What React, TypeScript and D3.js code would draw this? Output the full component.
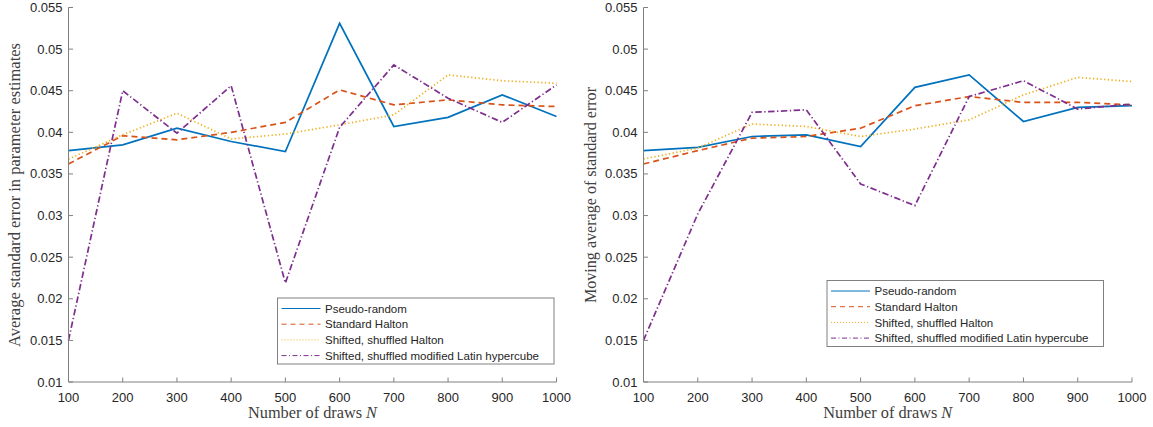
import React from "react";
import * as d3 from "d3";

const draws = [100, 200, 300, 400, 500, 600, 700, 800, 900, 1000];
const yTicks = [0.01, 0.015, 0.02, 0.025, 0.03, 0.035, 0.04, 0.045, 0.05, 0.055];
const seriesNames = [
  "Pseudo-random",
  "Standard Halton",
  "Shifted, shuffled Halton",
  "Shifted, shuffled modified Latin hypercube",
];

// Left panel: average standard error in parameter estimates
const leftPseudo = [0.0378, 0.0385, 0.0405, 0.0389, 0.0377, 0.0531, 0.0407, 0.0418, 0.0445, 0.0419];
const leftHalton = [0.0362, 0.0396, 0.0391, 0.04, 0.0412, 0.0451, 0.0433, 0.0439, 0.0433, 0.0431];
const leftShHalton = [0.0368, 0.0397, 0.0423, 0.0392, 0.0398, 0.0409, 0.0421, 0.0469, 0.0462, 0.0459];
const leftLatin = [0.015, 0.045, 0.0399, 0.0456, 0.0219, 0.0406, 0.0481, 0.0441, 0.0412, 0.0457];

// Right panel: moving average of standard error
const rightPseudo = [0.0378, 0.0382, 0.0395, 0.0397, 0.0383, 0.0454, 0.0469, 0.0413, 0.043, 0.0432];
const rightHalton = [0.0362, 0.0378, 0.0393, 0.0395, 0.0405, 0.0432, 0.0443, 0.0436, 0.0436, 0.0433];
const rightShHalton = [0.0368, 0.0381, 0.041, 0.0407, 0.0395, 0.0404, 0.0415, 0.0445, 0.0466, 0.0461];
const rightLatin = [0.015, 0.0302, 0.0424, 0.0427, 0.0338, 0.0312, 0.0443, 0.0462, 0.0428, 0.0434];

const colors = ["#0072BD", "#D95319", "#EDB120", "#7E2F8E"];
const dashes = ["none", "6,4", "1.3,2.4", "6.5,2.5,1.3,2.5"];
const legendDashes = ["none", "5,4", "1,2", "5,2.5,1,2.5"];

const AXIS = "#808080";
const TXT = "#262626";
const SANS = "'Liberation Sans', Arial, Helvetica, sans-serif";
const SERIF = "'Liberation Serif', 'Times New Roman', serif";

type PanelProps = {
  x0: number;
  x1: number;
  series: number[][];
  ylabel: string;
  ylabelX: number;
  ylabelLen: number;
  legendX: number;
  legendY: number;
  legendW: number;
};

function Panel(p: PanelProps) {
  const y0 = 382;
  const y1 = 7.5;
  const x = d3.scaleLinear().domain([100, 1000]).range([p.x0, p.x1]);
  const y = d3.scaleLinear().domain([0.01, 0.055]).range([y0, y1]);
  const line = d3
    .line<number>()
    .x((_, i) => x(draws[i]))
    .y((d) => y(d));
  const cx = (p.x0 + p.x1) / 2;
  const legendH = 66;
  const rowH = 15.7;
  return (
    <g>
      {p.series.map((s, i) => (
        <path
          key={i}
          d={line(s) || ""}
          fill="none"
          stroke={colors[i]}
          strokeWidth={1.7}
          strokeDasharray={dashes[i]}
          strokeLinejoin="miter"
        />
      ))}
      {/* axes */}
      <line x1={p.x0} x2={p.x0} y1={y1} y2={y0} stroke={AXIS} strokeWidth={1} />
      <line x1={p.x0} x2={p.x1} y1={y0} y2={y0} stroke={AXIS} strokeWidth={1} />
      {yTicks.map((t) => (
        <g key={t}>
          <line x1={p.x0} x2={p.x0 + 4.5} y1={y(t)} y2={y(t)} stroke={AXIS} strokeWidth={1} />
          <text
            x={p.x0 - 6}
            y={y(t)}
            dy="0.35em"
            textAnchor="end"
            fontFamily={SANS}
            fontSize={13}
            fill={TXT}
          >
            {t.toString()}
          </text>
        </g>
      ))}
      {draws.map((t) => (
        <g key={t}>
          <line x1={x(t)} x2={x(t)} y1={y0} y2={y0 - 4.5} stroke={AXIS} strokeWidth={1} />
          <text
            x={x(t)}
            y={402}
            textAnchor="middle"
            fontFamily={SANS}
            fontSize={13}
            fill={TXT}
          >
            {t}
          </text>
        </g>
      ))}
      <text
        x={cx}
        y={418}
        textAnchor="middle"
        fontFamily={SERIF}
        fontSize={16}
        fill="#404040"
        textLength={129}
        lengthAdjust="spacingAndGlyphs"
      >
        Number of draws <tspan fontStyle="italic">N</tspan>
      </text>
      <text
        transform={`translate(${p.ylabelX},${195}) rotate(-90)`}
        textAnchor="middle"
        fontFamily={SERIF}
        fontSize={16}
        fill="#404040"
        textLength={p.ylabelLen}
        lengthAdjust="spacingAndGlyphs"
      >
        {p.ylabel}
      </text>
      {/* legend */}
      <rect
        x={p.legendX}
        y={p.legendY}
        width={p.legendW}
        height={legendH}
        fill="#fff"
        stroke={AXIS}
        strokeWidth={1}
      />
      {seriesNames.map((n, i) => {
        const ry = p.legendY + 10.5 + i * rowH;
        return (
          <g key={n}>
            <line
              x1={p.legendX + 4}
              x2={p.legendX + 43}
              y1={ry}
              y2={ry}
              stroke={colors[i]}
              strokeWidth={1}
              strokeDasharray={legendDashes[i]}
            />
            <text
              x={p.legendX + 47.5}
              y={ry}
              dy="0.36em"
              fontFamily={SANS}
              fontSize={11.5}
              fill={TXT}
            >
              {n}
            </text>
          </g>
        );
      })}
    </g>
  );
}

export default function App() {
  return (
    <svg
      width={1153}
      height={427}
      style={{ position: "absolute", left: 0, top: 0, background: "#fff" }}
    >
      <rect width={1153} height={427} fill="#fff" />
      <Panel
        x0={68.5}
        x1={556.5}
        series={[leftPseudo, leftHalton, leftShHalton, leftLatin]}
        ylabel="Average standard error in parameter estimates"
        ylabelX={20}
        ylabelLen={304}
        legendX={277.5}
        legendY={298}
        legendW={276.5}
      />
      <Panel
        x0={643.5}
        x1={1132}
        series={[rightPseudo, rightHalton, rightShHalton, rightLatin]}
        ylabel="Moving average of standard error"
        ylabelX={596}
        ylabelLen={216}
        legendX={827}
        legendY={280.5}
        legendW={276.5}
      />
    </svg>
  );
}
